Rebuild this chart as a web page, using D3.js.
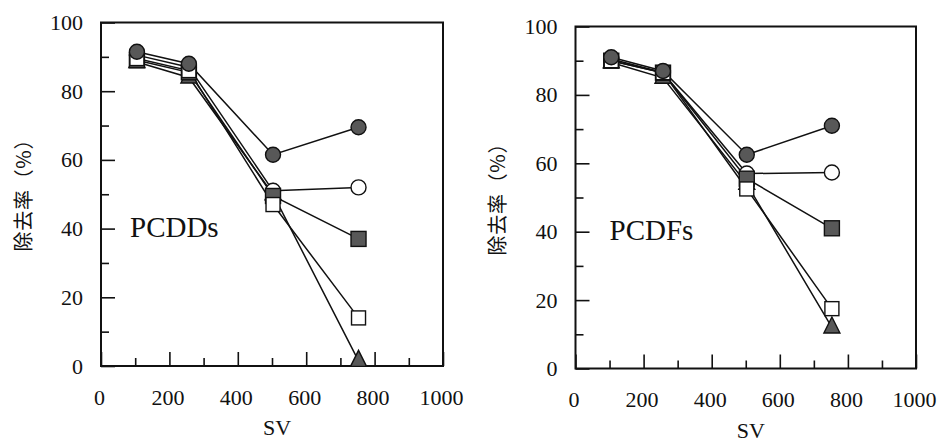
<!DOCTYPE html>
<html>
<head>
<meta charset="utf-8">
<script src="https://cdn.jsdelivr.net/npm/d3@7"></script>
<style>
body{margin:0;background:#fff;}
svg text{fill:#111;}
</style>
</head>
<body>
<div id="chart"></div>
<script>
var svValues=[105,257,503,753];
var xTicks=[0,200,400,600,800,1000];
var xMinorTicks=[100,300,500,700,900];
var yTicks=[0,20,40,60,80,100];
var yMinorTicks=[10,30,50,70,90];
var panelNames=["PCDDs","PCDFs"];
var seriesKinds=["filledTriangle","openCircle","filledSquare","openSquare","filledCircle"];

// PCDDs removal (%)
var pcddFilledCircle=[91.5,88,61.5,69.5];
var pcddOpenCircle=[90.5,87,51,52];
var pcddFilledSquare=[89,85.5,49.5,37];
var pcddOpenSquare=[89.5,86,47,14];
var pcddFilledTriangle=[88.5,84,50,1.5];

// PCDFs removal (%)
var pcdfFilledCircle=[91,87,62.5,71];
var pcdfOpenCircle=[90.5,86.5,57,57.3];
var pcdfFilledSquare=[90,86.5,55.5,41];
var pcdfOpenSquare=[90,86.5,52.5,17.5];
var pcdfFilledTriangle=[89.5,85,54,12];

var gray="#585858";
var ink="#111";
var serif="'Liberation Serif','DejaVu Serif',serif";

var svg=d3.select("#chart").append("svg")
    .attr("width",943)
    .attr("height",442);

function marker(g,kind,cx,cy){
    var filled=kind.indexOf("filled")==0;
    var m;
    if(kind.indexOf("Circle")>0){
        m=g.append("circle").attr("cx",cx).attr("cy",cy).attr("r",7.5);
    }
    else if(kind.indexOf("Square")>0){
        var s=filled?15:14;
        m=g.append("rect").attr("x",cx-s/2).attr("y",cy-s/2).attr("width",s).attr("height",s);
    }
    else{
        m=g.append("path").attr("d","M"+cx+","+(cy-10.5)+"L"+(cx+8)+","+(cy+5.5)+"L"+(cx-8)+","+(cy+5.5)+"Z");
    }
    m.attr("fill",filled?gray:"#fff").attr("stroke",ink).attr("stroke-width",1.4);
}

function drawPanel(box,name,series){
    var x=d3.scaleLinear().domain([0,1000]).range([box.left,box.right]);
    var y=d3.scaleLinear().domain([0,100]).range([box.bottom,box.top]);
    var g=svg.append("g");

    //minor and major ticks, pointing inwards
    var xMinor=g.append("g").attr("transform","translate(0,"+box.bottom+")")
        .call(d3.axisBottom(x).tickValues(xMinorTicks).tickSize(-8).tickFormat(""));
    var xMajor=g.append("g").attr("transform","translate(0,"+box.bottom+")")
        .call(d3.axisBottom(x).tickValues(xTicks).tickSize(-14).tickPadding(23).tickFormat(d3.format("d")));
    var yMinor=g.append("g").attr("transform","translate("+box.left+",0)")
        .call(d3.axisLeft(y).tickValues(yMinorTicks).tickSize(-8).tickFormat(""));
    var yMajor=g.append("g").attr("transform","translate("+box.left+",0)")
        .call(d3.axisLeft(y).tickValues(yTicks).tickSize(-14).tickPadding(18).tickFormat(d3.format("d")));
    [xMinor,xMajor,yMinor,yMajor].forEach(function(a){
        a.attr("font-family",null).attr("font-size",null);
        a.select(".domain").remove();
        a.selectAll("line").attr("stroke",ink).attr("stroke-width",1.6);
        a.selectAll("text")
            .style("font-family",serif)
            .style("font-size","22px")
            .attr("fill",ink);
    });
    xMajor.selectAll("text").attr("dx",-2);

    g.append("rect")
        .attr("x",box.left).attr("y",box.top)
        .attr("width",box.right-box.left).attr("height",box.bottom-box.top)
        .attr("fill","none").attr("stroke",ink).attr("stroke-width",2);

    var line=d3.line()
        .x(function(d,i){return x(svValues[i]);})
        .y(function(d){return y(d);});
    series.forEach(function(vals){
        g.append("path").attr("d",line(vals))
            .attr("fill","none").attr("stroke",ink).attr("stroke-width",1.5);
    });
    series.forEach(function(vals,k){
        vals.forEach(function(v,i){
            marker(g,seriesKinds[k],x(svValues[i]),y(v));
        });
    });

    g.append("text")
        .attr("x",box.left+box.nameDx)
        .attr("y",box.nameY)
        .style("font-family",serif)
        .style("font-size","29px")
        .text(name);

    g.append("text")
        .attr("x",(box.left+box.right)/2+5)
        .attr("y",box.bottom+69)
        .attr("text-anchor","middle")
        .style("font-family",serif)
        .style("font-size","22px")
        .text("SV");

    g.append("text")
        .attr("transform","translate("+(box.left-79)+","+(box.top+168)+") rotate(-90)")
        .attr("text-anchor","middle")
        .attr("dominant-baseline","central")
        .attr("textLength",122)
        .attr("lengthAdjust","spacing")
        .style("font-family","'Noto Sans CJK JP','Noto Sans CJK SC',sans-serif")
        .style("font-size","20px")
        .text("除去率（%）");
}

drawPanel({left:101,right:443,top:22.5,bottom:366,nameDx:29,nameY:237},panelNames[0],
    [pcddFilledTriangle,pcddOpenCircle,pcddFilledSquare,pcddOpenSquare,pcddFilledCircle]);
drawPanel({left:575.5,right:916,top:26.5,bottom:368.5,nameDx:34,nameY:240},panelNames[1],
    [pcdfFilledTriangle,pcdfOpenCircle,pcdfFilledSquare,pcdfOpenSquare,pcdfFilledCircle]);
</script>
</body>
</html>
